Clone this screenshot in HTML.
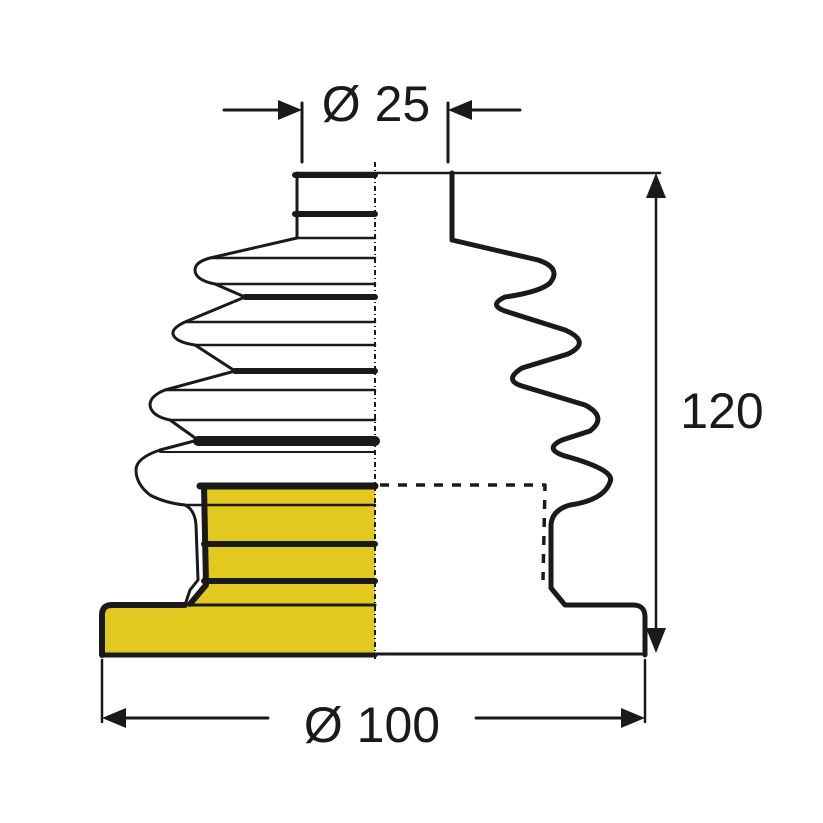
<!DOCTYPE html>
<html><head><meta charset="utf-8"><style>html,body{margin:0;padding:0;background:#fff}svg{display:block}</style></head>
<body>
<svg width="823" height="823" viewBox="0 0 823 823" xmlns="http://www.w3.org/2000/svg">
<g fill="none" stroke="#1a1a1a" stroke-linecap="round" stroke-linejoin="round">
<path d="M203,485 L375,485 L375,655 L102,655 L102,615 Q102,605 112,605 L185,605 L205,588 Z" fill="#e3c81f" stroke="none"/>
<line x1="297" y1="173" x2="660" y2="173" stroke-width="2.5"/>
<line x1="297" y1="173" x2="297" y2="238" stroke-width="3"/>
<line x1="295" y1="175" x2="375" y2="175" stroke-width="6"/>
<line x1="295" y1="214" x2="375" y2="214" stroke-width="6"/>
<line x1="297" y1="238" x2="375" y2="238" stroke-width="2.5"/>
<path d="M297,238 L210,258 Q195,262 195,270 Q195,280 215,284 L245,297 L185,322 Q172,328 173,334 Q175,342 195,345 L235,371 L165,390 Q150,396 150,405 Q151,416 170,420 L198,440 L160,450 Q136,458 136,470 Q136,484 150,495 Q165,503 185,505 Q195,510 196,525 L198,580 L190,590 L185,605 L112,605 Q102,605 102,615 L102,655" stroke-width="3"/>
<line x1="210" y1="258" x2="375" y2="258" stroke-width="2.5"/>
<line x1="215" y1="284" x2="375" y2="284" stroke-width="2.5"/>
<line x1="245" y1="297" x2="375" y2="297" stroke-width="6"/>
<line x1="185" y1="322" x2="375" y2="322" stroke-width="2.5"/>
<line x1="195" y1="345" x2="375" y2="345" stroke-width="2.5"/>
<line x1="235" y1="371" x2="375" y2="371" stroke-width="6"/>
<line x1="165" y1="390" x2="375" y2="390" stroke-width="2.5"/>
<line x1="170" y1="420" x2="375" y2="420" stroke-width="2.5"/>
<line x1="198" y1="441" x2="375" y2="441" stroke-width="10"/>
<line x1="160" y1="452" x2="375" y2="452" stroke-width="2"/>
<line x1="185" y1="505" x2="375" y2="505" stroke-width="2.5"/>
<line x1="200" y1="486" x2="375" y2="486" stroke-width="7"/>
<path d="M204,486 L206,585 L190,604" stroke-width="6"/>
<line x1="204" y1="544" x2="375" y2="544" stroke-width="6"/>
<line x1="204" y1="581" x2="375" y2="581" stroke-width="6"/>
<line x1="192" y1="605" x2="375" y2="605" stroke-width="3"/>
<path d="M102,655 L102,615 Q102,605 112,605 L185,605" stroke-width="6"/>
<line x1="102" y1="654" x2="645" y2="654" stroke-width="3"/>
<line x1="102" y1="655" x2="375" y2="655" stroke-width="5"/>
<path d="M452,173 L452,240 L538,260 Q562,268 550,283 Q540,292 505,297 Q488,305 505,311 L565,330 Q592,342 568,354 L522,368 Q503,380 522,386 L585,405 Q608,417 590,431 L562,440 Q543,449 565,456 Q616,470 610,482 Q604,500 570,505 Q552,510 551,525 L551,588 L565,605 L633,605 Q645,605 645,617 L645,655" stroke-width="5"/>
<path d="M565,605 L633,605 Q645,605 645,617 L645,655" stroke-width="2.5"/>
<path d="M380,485 L545,485 L543,580" stroke-width="3.5" stroke-dasharray="9,9" stroke-linecap="butt"/>
<line x1="375" y1="162" x2="375" y2="662" stroke-width="2" stroke-dasharray="5,3,1,3" stroke-linecap="butt"/>
<line x1="302" y1="103" x2="302" y2="162" stroke-width="3"/>
<line x1="448" y1="103" x2="448" y2="162" stroke-width="3"/>
<line x1="224" y1="110" x2="282" y2="110" stroke-width="3"/>
<line x1="468" y1="110" x2="520" y2="110" stroke-width="3"/>
<line x1="656" y1="190" x2="656" y2="636" stroke-width="2.5"/>
<line x1="102" y1="660" x2="102" y2="722" stroke-width="2.5"/>
<line x1="645" y1="660" x2="645" y2="722" stroke-width="2.5"/>
<line x1="120" y1="718" x2="268" y2="718" stroke-width="3"/>
<line x1="476" y1="718" x2="627" y2="718" stroke-width="3"/>
</g>
<g fill="#1a1a1a">
<polygon points="302,110 278,100 278,120"/>
<polygon points="448,110 472,100 472,120"/>
<polygon points="656,173 646,198 666,198"/>
<polygon points="656,653 646,628 666,628"/>
<polygon points="102,718 126,708 126,728"/>
<polygon points="645,718 621,708 621,728"/>
</g>
<g font-family="Liberation Sans, sans-serif" font-size="50" fill="#1a1a1a">
<text x="376" y="121" text-anchor="middle">Ø 25</text>
<text x="372" y="742" text-anchor="middle">Ø 100</text>
<text x="722" y="428" text-anchor="middle">120</text>
</g>
</svg>
</body></html>
